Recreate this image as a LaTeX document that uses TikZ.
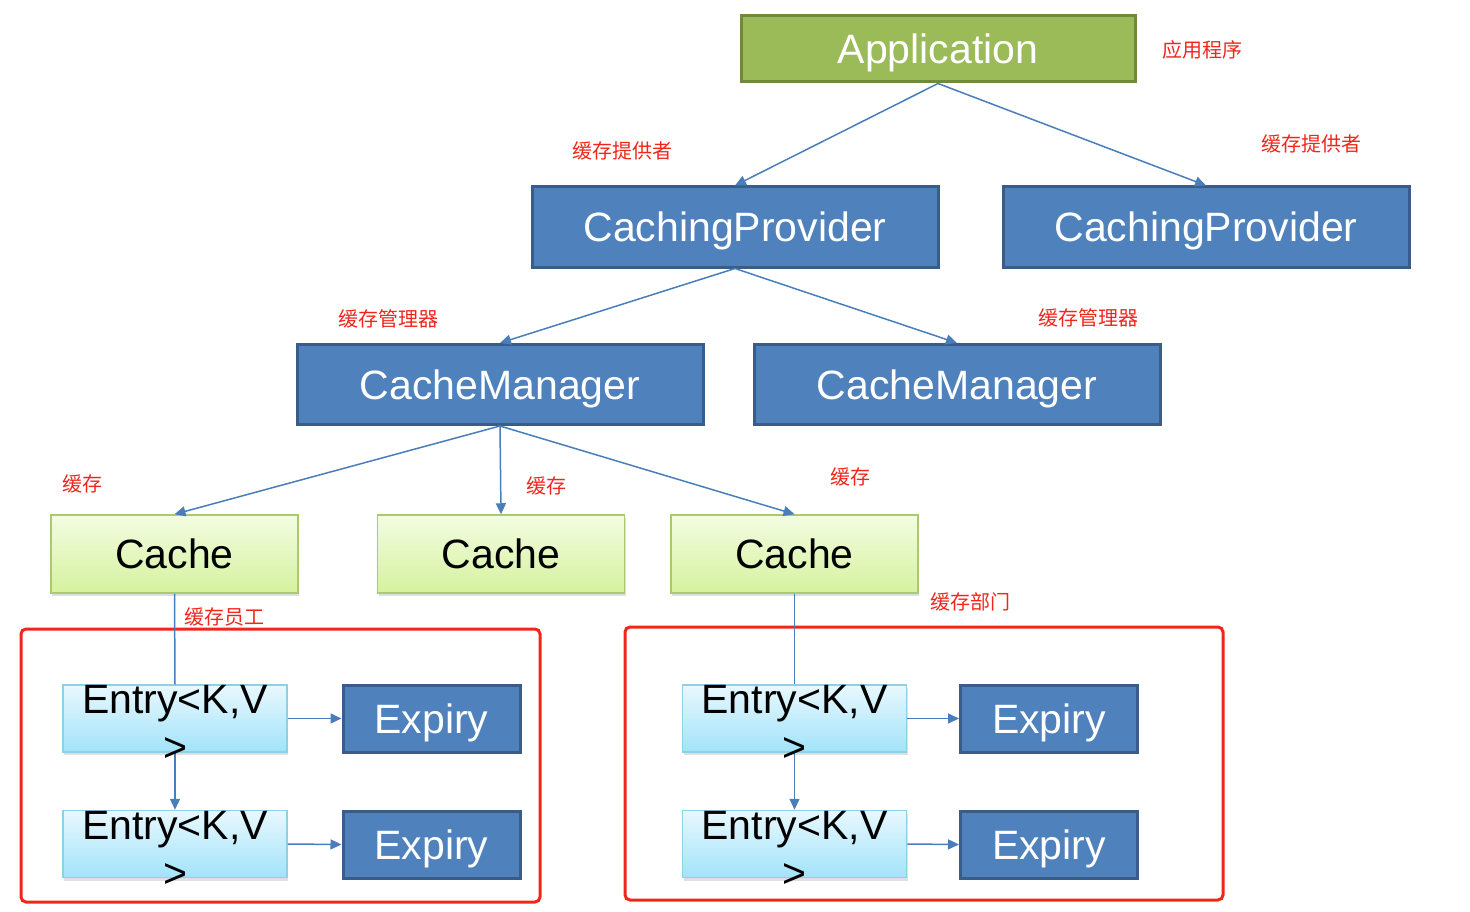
\documentclass[tikz,border=0pt]{standalone}
\usepackage{fontspec}
\setmainfont{Liberation Sans}
\newfontfamily\cjk{Noto Sans CJK SC}
\usepackage{xcolor}
\usetikzlibrary{arrows.meta,positioning,shadows}
\definecolor{appGreen}{HTML}{9BBB59}
\definecolor{appGreenD}{HTML}{71893F}
\definecolor{boxBlue}{HTML}{4F81BD}
\definecolor{boxBlueD}{HTML}{385D8A}
\definecolor{lineBlue}{HTML}{4A7EBB}
\definecolor{noteRed}{HTML}{F0261B}
\definecolor{cacheTop}{HTML}{F3FCE2}
\definecolor{cacheBot}{HTML}{D6F29E}
\definecolor{cacheLine}{HTML}{A9CA6E}
\definecolor{entryTop}{HTML}{E8F8FE}
\definecolor{entryBot}{HTML}{A2E3FA}
\definecolor{entryLine}{HTML}{8ED0E4}

\begin{document}
\begin{tikzpicture}[x=1pt, y=-1pt,
  big/.style={font=\fontsize{41}{48}\selectfont},
  bluebox/.style={draw=boxBlueD, line width=3pt, fill=boxBlue, text=white, big, text depth=0pt, minimum width=406pt, minimum height=80pt, inner sep=0pt},
  cachebox/.style={draw=cacheLine, line width=1.5pt, top color=cacheTop, bottom color=cacheBot, big, text depth=0pt, minimum width=247pt, minimum height=78pt, drop shadow={opacity=0.25, shadow xshift=1pt, shadow yshift=-3pt}},
  entrybox/.style={draw=entryLine, line width=1.5pt, top color=entryTop, bottom color=entryBot, minimum width=224pt, minimum height=67pt, drop shadow={opacity=0.25, shadow xshift=1pt, shadow yshift=-3pt}},
  entrytxt/.style={big, align=center, anchor=north, inner sep=0pt},
  expbox/.style={bluebox, minimum width=177pt, minimum height=67pt},
  note/.style={text=noteRed, font=\cjk\fontsize{20}{22}\selectfont},
  arr/.style={draw=lineBlue, line width=1.5pt, -{Triangle[length=11pt,width=10pt]}},
  plain/.style={draw=lineBlue, line width=1.5pt},
  frame/.style={draw=noteRed, line width=3pt, rounded corners=5pt}]
\useasboundingbox (0,0) rectangle (1470,912);
% --- top levels ---
\node[bluebox, draw=appGreenD, fill=appGreen, minimum width=394pt, minimum height=66pt] (app) at (938,49) {Application};
\node[note] (appN) at (1202,50) {应用程序};
\node[bluebox] (cpL) at (735,227) {CachingProvider};
\node[bluebox] (cpR) at (1206,227) {CachingProvider};
\node[note] (cpLN) at (622,151) {缓存提供者};
\node[note] (cpRN) at (1311,144) {缓存提供者};
\node[bluebox] (cmL) at (500,384.5) {CacheManager};
\node[bluebox] (cmR) at (957,384.5) {CacheManager};
\node[note] (cmLN) at (388,319) {缓存管理器};
\node[note] (cmRN) at (1088,318) {缓存管理器};
% --- caches ---
\node[cachebox] (cA) at (174.5,554) {Cache};
\node[cachebox] (cB) at (501,554) {Cache};
\node[cachebox] (cC) at (794.5,554) {Cache};
\node[note] (cAN) at (82,484) {缓存};
\node[note] (cBN) at (546,486) {缓存};
\node[note] (cCN) at (850,477) {缓存};
\node[note] (wN) at (224,617) {缓存员工};
\node[note] (dN) at (970,602) {缓存部门};
% --- red frames ---
\draw[frame] (21,629) rectangle (540,902);
\draw[frame] (625,627) rectangle (1223,900);
% --- entries and expiries ---
\foreach \s/\x/\ex in {L/175/431.5, R/794.5/1049} {
  \node[entrybox] (e\s1) at (\x,718.5) {};
  \node[entrybox] (e\s2) at (\x,844) {};
  \node[expbox] (x\s1) at (\ex,718.5) {Expiry};
  \node[expbox] (x\s2) at (\ex,844.5) {Expiry};
}
% --- connectors ---
\draw[arr] (app.south) -- (cpL.north);
\draw[arr] (app.south) -- (cpR.north);
\draw[arr] (cpL.south) -- (cmL.north);
\draw[arr] (cpL.south) -- (cmR.north);
\draw[arr] (cmL.south) -- (cA.north);
\draw[arr] (cmL.south) -- (cB.north);
\draw[arr] (cmL.south) -- (cC.north);
\draw[plain] (cA.south) -- (eL1.north);
\draw[plain] (cC.south) -- (eR1.north);
\foreach \s in {L,R} {
  \draw[arr] (e\s1.south) -- (e\s2.north);
  \draw[arr] (e\s1.east) -- (x\s1.west);
  \draw[arr] (e\s2.east) -- (x\s2.west);
  \node[entrytxt] (t\s1) at ([yshift=-1pt]e\s1.north) {Entry<K,V\\>};
  \node[entrytxt] (t\s2) at ([yshift=-1pt]e\s2.north) {Entry<K,V\\>};
}
\end{tikzpicture}
\end{document}
